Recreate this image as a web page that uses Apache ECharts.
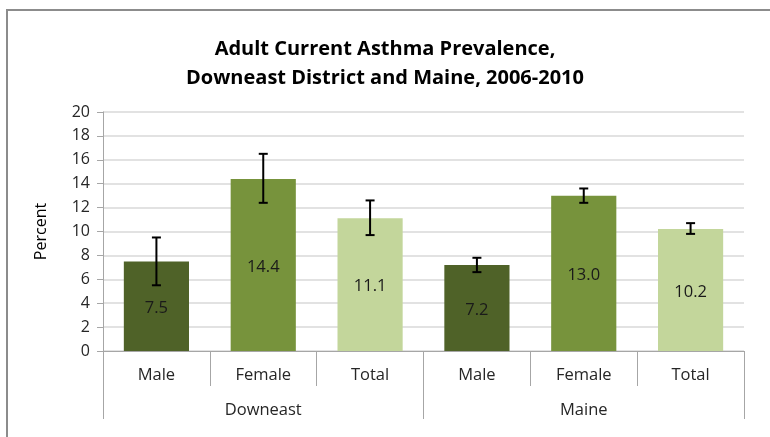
<!DOCTYPE html>
<html><head><meta charset="utf-8">
<script src="https://cdn.jsdelivr.net/npm/echarts@6/dist/echarts.min.js"></script>
<style>html,body{margin:0;padding:0;background:#fff}#c{width:770px;height:437px}</style>
</head><body><div id="c"></div>
<script>
var categories = ['Male','Female','Total','Male','Female','Total'];
var groups = ['Downeast','Maine'];
var values = [7.5, 14.4, 11.1, 7.2, 13.0, 10.2];
var lower = [5.5, 12.4, 9.7, 6.6, 12.4, 9.8];
var upper = [9.5, 16.5, 12.6, 7.8, 13.6, 10.7];
var colors = ['#4F6228','#77933C','#C3D69B','#4F6228','#77933C','#C3D69B'];
var yTicks = [0,2,4,6,8,10,12,14,16,18,20];

var font = '"Open Sans", Lato, sans-serif';
var chart = echarts.init(document.getElementById('c'));
chart.setOption({
  animation:false,
  title:{text:'Adult Current Asthma Prevalence,\nDowneast District and Maine, 2006-2010',left:'center',top:30,
    textStyle:{fontFamily:font,fontSize:20,fontWeight:'bold',color:'#000',lineHeight:29}},
  graphic:[{type:'rect',shape:{x:7,y:10,width:800,height:500},style:{fill:'none',stroke:'#8c8c8c',lineWidth:2},silent:true}],
  grid:{left:103,right:26,top:112,bottom:86},
  xAxis:[{type:'category',data:categories,position:'bottom',
      axisLine:{lineStyle:{color:'#a6a6a6',width:1}},
      axisTick:{show:true,interval:0,length:35,lineStyle:{color:'#a6a6a6',width:1}},
      axisLabel:{interval:0,fontFamily:font,fontSize:16.5,color:'#262626',margin:16}},
    {type:'category',data:groups,position:'bottom',offset:35,gridIndex:0,
      axisLine:{show:false},
      axisTick:{show:true,interval:0,length:33,lineStyle:{color:'#a6a6a6',width:1}},
      axisLabel:{interval:0,fontFamily:font,fontSize:16.5,color:'#262626',margin:16}}],
  yAxis:{type:'value',min:yTicks[0],max:yTicks[yTicks.length-1],interval:2,
    name:'Percent',nameLocation:'middle',nameGap:54,nameRotate:90,
    nameTextStyle:{fontFamily:font,fontSize:16,color:'#000'},
    axisLine:{show:true,lineStyle:{color:'#a6a6a6'}},
    axisTick:{show:true,length:6,lineStyle:{color:'#a6a6a6'}},
    axisLabel:{fontFamily:font,fontSize:16,color:'#262626',margin:13},
    splitLine:{lineStyle:{color:'#d9d9d9',width:1.5}}},
  series:[{type:'bar',xAxisIndex:0,barWidth:'61%',
      data:values.map(function(v,i){return {value:v,itemStyle:{color:colors[i]}};}),
      label:{show:true,position:'inside',offset:[0,2],fontFamily:font,fontSize:16.5,color:'#1a1a1a',
        formatter:function(p){return p.value.toFixed(1);}}},
    {type:'custom',xAxisIndex:0,z:10,
      data:lower.map(function(l,i){return [i,l,upper[i]];}),
      renderItem:function(params,api){
        var lo=api.coord([api.value(0),api.value(1)]);
        var hi=api.coord([api.value(0),api.value(2)]);
        var w=4.5;
        var st={stroke:'#000',lineWidth:2};
        return {type:'group',children:[
          {type:'line',shape:{x1:lo[0],y1:lo[1],x2:hi[0],y2:hi[1]},style:st},
          {type:'line',shape:{x1:lo[0]-w,y1:lo[1],x2:lo[0]+w,y2:lo[1]},style:st},
          {type:'line',shape:{x1:hi[0]-w,y1:hi[1],x2:hi[0]+w,y2:hi[1]},style:st}]};
      }}]
});
</script></body></html>
